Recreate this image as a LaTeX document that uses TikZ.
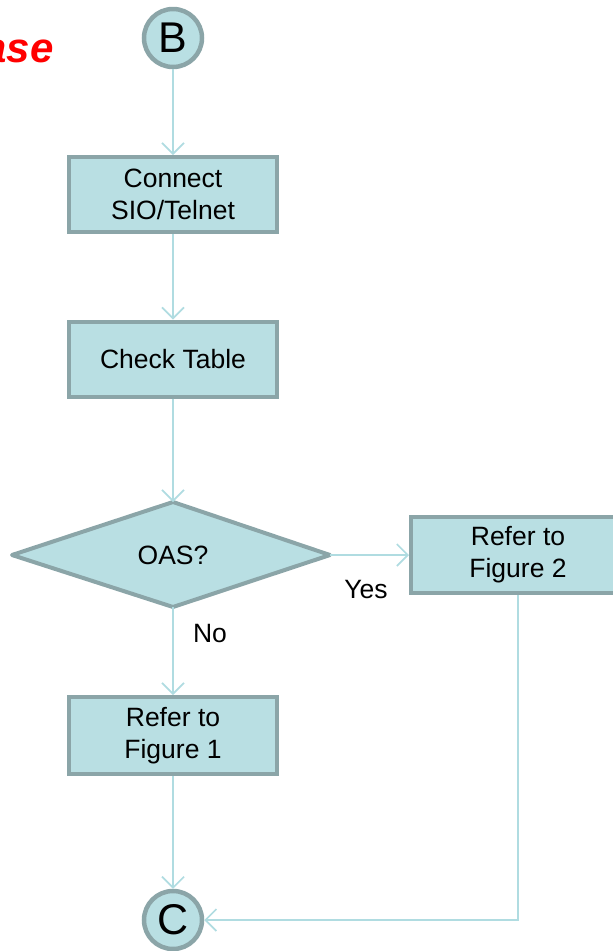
\documentclass[tikz,border=0pt]{standalone}
\usepackage{fontspec}
\setmainfont{Liberation Sans}
\usetikzlibrary{arrows.meta}
\definecolor{boxfill}{HTML}{B9DFE3}
\definecolor{boxline}{HTML}{8BA5A8}
\definecolor{arrowc}{HTML}{B0DCE1}
\tikzset{
  procbox/.style={draw=boxline,line width=4pt,fill=boxfill,minimum width=208pt,minimum height=75pt,align=center,font=\fontsize{26.5}{32}\selectfont,inner sep=0pt},
  conn/.style={circle,draw=boxline,line width=4.5pt,fill=boxfill,minimum size=58pt,inner sep=0pt,font=\fontsize{43}{43}\selectfont},
  flow/.style={draw=arrowc,line width=1.6pt,-{Straight Barb[length=11pt,width=22pt,line width=1.6pt]}},
  lbl/.style={font=\fontsize{26.5}{32}\selectfont}
}
\begin{document}
\begin{tikzpicture}[x=1pt,y=-1pt]
\useasboundingbox (0,0) rectangle (613,951);
\node[anchor=base east,text=red,font=\fontsize{42}{42}\selectfont\bfseries\itshape] (title) at (57,62) {ase};
\node[conn] (B) at (173,38) {B};
\node[procbox] (conn1) at (173,194.5) {Connect\\SIO/Telnet};
\node[procbox] (check) at (173,359) {Check Table};
\path[draw=boxline,line width=4pt,fill=boxfill,line join=round] (12,555) -- (173,502) -- (330,555) -- (173,607) -- cycle;
\node[lbl] (oas) at (173,555) {OAS?};
\coordinate (dtop) at (173,502);
\coordinate (dright) at (330,555);
\coordinate (dbot) at (173,607);
\node[procbox,minimum width=214pt,minimum height=76pt] (fig2) at (518,555) {Refer to\\Figure 2};
\node[procbox,minimum height=77pt] (fig1) at (173,735.5) {Refer to\\Figure 1};
\node[conn] (C) at (173,920) {C};
\draw[flow] (B) -- (conn1);
\draw[flow] (conn1) -- (check);
\draw[flow] (check) -- (dtop);
\draw[flow] (dright) -- (fig2.west);
\draw[flow] (dbot) -- (fig1);
\draw[flow] (fig1) -- (C);
\coordinate (corner) at (518,920);
\draw[flow] (fig2.south) -- (corner) -- (C);
\node[lbl] (yes) at (366,590) {Yes};
\node[lbl] (no) at (210,634) {No};
\end{tikzpicture}
\end{document}
